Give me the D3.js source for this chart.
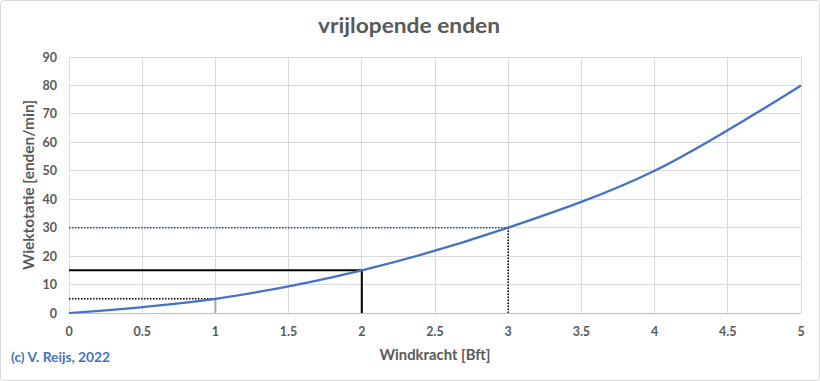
<!DOCTYPE html>
<html><head><meta charset="utf-8">
<script src="https://cdn.jsdelivr.net/npm/d3@7"></script>
<style>
html,body{margin:0;padding:0;background:#fff;}
svg text{font-family:Lato,"Open Sans",sans-serif;}
</style></head>
<body>
<svg id="c" width="820" height="381"></svg>
<script>
const windX = [0, 1, 2, 3, 4, 5];
const rotatie = [0, 5, 15, 30, 50, 80];
const xTicks = [0, 0.5, 1, 1.5, 2, 2.5, 3, 3.5, 4, 4.5, 5];
const yTicks = [0, 10, 20, 30, 40, 50, 60, 70, 80, 90];
const refDottedLow = [[0,5],[1,5]];
const refGrayVert = [[1,0],[1,5]];
const refSolid = [[0,15],[2,15],[2,0]];
const refDottedHigh = [[0,30],[3,30]];
const refDottedVert = [[3,0],[3,30]];

const svg = d3.select("#c");
svg.append("rect").attr("x",0.5).attr("y",0.5).attr("width",819).attr("height",380)
  .attr("rx",3).attr("fill","#fff").attr("stroke","#d9d9d9");

const x = d3.scaleLinear().domain([0,5]).range([69,801]);
const y = d3.scaleLinear().domain([0,90]).range([313,57]);
const grid = svg.append("g");
grid.selectAll(".vx").data(xTicks).join("line")
  .attr("x1",d=>x(d)).attr("x2",d=>x(d)).attr("y1",y(0)).attr("y2",y(90))
  .attr("stroke","#d9d9d9").attr("stroke-width",1).attr("shape-rendering","crispEdges");
grid.selectAll(".hy").data(yTicks).join("line")
  .attr("x1",x(0)).attr("x2",x(5)).attr("y1",d=>y(d)).attr("y2",d=>y(d))
  .attr("stroke",d=>d===0?"#bfbfbf":"#d9d9d9").attr("stroke-width",1).attr("shape-rendering","crispEdges");

const ln = d3.line().x(d=>x(d[0])).y(d=>y(d[1]));
svg.append("path").attr("d",ln(refDottedLow)).attr("fill","none").attr("stroke","#000").attr("stroke-width",1.5).attr("stroke-dasharray","1.5,1.5");
svg.append("path").attr("d",ln(refGrayVert)).attr("fill","none").attr("stroke","#a6a6a6").attr("stroke-width",2);
svg.append("path").attr("d",ln(refSolid)).attr("fill","none").attr("stroke","#000").attr("stroke-width",2);
svg.append("path").attr("d",ln(refDottedHigh)).attr("fill","none").attr("stroke","#2f4f8f").attr("stroke-width",1.5).attr("stroke-dasharray","1.5,1.5");
svg.append("path").attr("d",ln(refDottedVert)).attr("fill","none").attr("stroke","#000").attr("stroke-width",1.5).attr("stroke-dasharray","1.5,1.5");

const data = windX.map((v,i)=>[v,rotatie[i]]);
svg.append("path").attr("d",d3.line().x(d=>x(d[0])).y(d=>y(d[1])).curve(d3.curveCardinal.tension(0))(data))
  .attr("fill","none").attr("stroke","#4472c4").attr("stroke-width",2.25);

const tc = "#595959";
svg.selectAll(".xt").data(xTicks).join("text")
  .attr("x",d=>x(d)).attr("y",336).attr("text-anchor","middle")
  .attr("font-size",12.5).attr("font-weight","bold").attr("fill",tc).text(d=>d);
svg.selectAll(".yt").data(yTicks).join("text")
  .attr("x",57).attr("y",d=>y(d)+4.5).attr("text-anchor","end")
  .attr("font-size",12.5).attr("font-weight","bold").attr("fill",tc).text(d=>d);

svg.append("text").attr("x",409).attr("y",33).attr("text-anchor","middle")
  .attr("font-size",21).attr("font-weight","bold").attr("fill",tc)
  .attr("textLength",182).attr("lengthAdjust","spacingAndGlyphs").text("vrijlopende enden");
svg.append("text").attr("x",435).attr("y",360).attr("text-anchor","middle")
  .attr("font-size",15).attr("font-weight","bold").attr("fill",tc)
  .attr("textLength",111).attr("lengthAdjust","spacingAndGlyphs").text("Windkracht [Bft]");
svg.append("text").attr("transform","translate(34,185) rotate(-90)").attr("text-anchor","middle")
  .attr("font-size",14.5).attr("font-weight","bold").attr("fill",tc)
  .attr("textLength",170).attr("lengthAdjust","spacingAndGlyphs").text("Wiektotatie [enden/min]");
svg.append("text").attr("x",11).attr("y",362)
  .attr("font-size",13).attr("font-weight","bold").attr("fill","#4472c4")
  .attr("textLength",99).attr("lengthAdjust","spacingAndGlyphs").text("(c) V. Reijs, 2022");
</script>
</body></html>
